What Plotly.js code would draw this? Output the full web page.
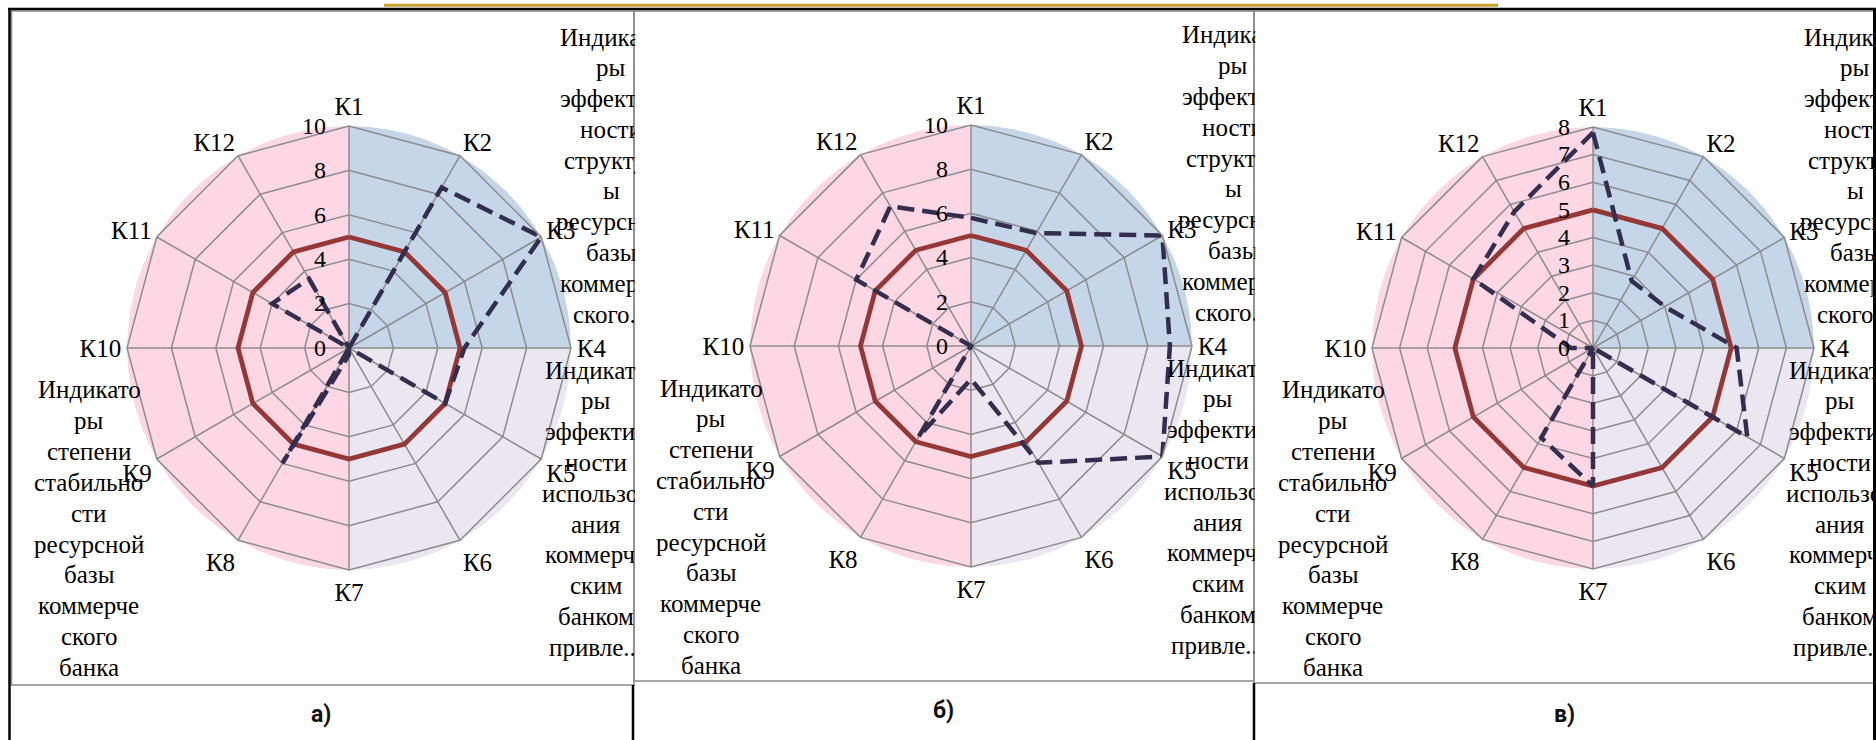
<!DOCTYPE html>
<html><head><meta charset="utf-8">
<script src="https://cdn.plot.ly/plotly-3.0.1.min.js"></script>
<style>html,body{margin:0;padding:0;background:#fff;}#chart{width:1876px;height:740px;}</style>
</head><body><div id="chart"></div>
<script>
// ---------- DATA ----------
const categories = ['К1','К2','К3','К4','К5','К6','К7','К8','К9','К10','К11','К12'];
// solid (threshold) series for each panel
const thresholdA = [5,5,5,5,5,5,5,5,5,5,5,5];
const thresholdB = [5,5,5,5,5,5,5,5,5,5,5,5];
const thresholdC = [5,5,5,5,5,5,5,5,5,5,5,5];
// dashed (actual) series for each panel
const valuesA = [0, 8.35, 10, 5.2, 5.0, 0, 0.3, 6.0, 0, 0, 4.0, 3.6];
const valuesB = [5.8, 5.9, 10, 9.0, 10, 6.1, 1.5, 4.75, 0, 0, 6.0, 7.3];
const valuesC = [7.8, 2.8, 3.0, 5.2, 6.45, 0, 5.0, 3.75, 0, 0.8, 5.0, 5.7];
// radial tick labels
const radialTicksAB = [0, 2, 4, 6, 8, 10];
const radialTicksC = [0, 1, 2, 3, 4, 5, 6, 7, 8];
// indicator groups (background sectors): number of indicator steps per group
const groupSteps = [3, 3, 6];
const groupColors = ['#c5d6e8', '#ebe7f0', '#fdd8e4'];
// group labels (as wrapped in the chart)
const groupStructureLines = ['Индикато','ры','эффектив','ности','структур','ы','ресурсной','базы','коммерче','ского...'];
const groupUsageLines = ['Индикато','ры','эффектив','ности','использов','ания','коммерче','ским','банком','привле...'];
const groupStabilityLines = ['Индикато','ры','степени','стабильно','сти','ресурсной','базы','коммерче','ского','банка'];
const panelCaptions = ['а)', 'б)', 'в)'];

// ---------- LAYOUT GEOMETRY ----------
const W = 1876, H = 740;
const panels = [
  {cx: 349, cy: 348, R: 222, clipRight: 634, max: 10, ticks: radialTicksAB, thr: thresholdA, val: valuesA, capX: 321, capY: 714},
  {cx: 971, cy: 346, R: 221, clipRight: 1254, max: 10, ticks: radialTicksAB, thr: thresholdB, val: valuesB, capX: 943, capY: 710},
  {cx: 1593, cy: 348, R: 221, clipRight: 1872, max: 8, ticks: radialTicksC, thr: thresholdC, val: valuesC, capX: 1564, capY: 714}
];
const gridCol = '#8c8c8c';
const serif = 'Liberation Serif';

const traces = [];
const layout = {
  width: W, height: H, margin: {l: 0, r: 0, t: 0, b: 0},
  paper_bgcolor: '#fff', showlegend: false,
  font: {family: serif, size: 25, color: '#000'},
  annotations: [], shapes: []
};

const totalSteps = groupSteps.reduce((a, b) => a + b, 0);
const close = arr => arr.concat([arr[0]]);

panels.forEach((p, i) => {
  const dom = {x: [(p.cx - p.R) / W, (p.cx + p.R) / W], y: [1 - (p.cy + p.R) / H, 1 - (p.cy - p.R) / H]};
  const bgId = 'polar' + (i === 0 ? '' : (i + 1));
  const rdId = 'polar' + (i + 4);
  // background sectors (one per indicator group)
  let start = 0;
  const th = [], wd = [];
  groupSteps.forEach(s => { const w = 360 * s / totalSteps; th.push(start + w / 2); wd.push(w); start += w; });
  traces.push({type: 'barpolar', subplot: bgId, r: groupSteps.map(() => 1), theta: th, width: wd,
    marker: {color: groupColors, line: {width: 0}}, hoverinfo: 'skip'});
  layout[bgId] = {domain: dom, bgcolor: 'rgba(0,0,0,0)', bargap: 0,
    angularaxis: {type: 'linear', direction: 'clockwise', rotation: 90, visible: false},
    radialaxis: {range: [0, 1], visible: false}};
  // radar series
  traces.push({type: 'scatterpolar', subplot: rdId, mode: 'lines', theta: close(categories), r: close(p.thr),
    line: {color: '#953735', width: 4.8}, hoverinfo: 'skip'});
  traces.push({type: 'scatterpolar', subplot: rdId, mode: 'lines', theta: close(categories), r: close(p.val),
    line: {color: '#332d4f', width: 4.5, dash: '17px,8px'}, hoverinfo: 'skip'});
  layout[rdId] = {domain: dom, bgcolor: 'rgba(0,0,0,0)', gridshape: 'linear',
    angularaxis: {type: 'category', categoryorder: 'array', categoryarray: categories,
      direction: 'clockwise', rotation: 90, showline: true, linecolor: gridCol, linewidth: 1.5,
      showgrid: true, gridcolor: gridCol, gridwidth: 1.5, ticks: '',
      tickfont: {family: serif, size: 25, color: '#000'}},
    radialaxis: {range: [0, p.max], autorange: false, tickvals: p.ticks, angle: 90, side: 'counterclockwise',
      showline: false, showgrid: true, gridcolor: gridCol, gridwidth: 1.5,
      ticks: 'outside', ticklen: 14, tickcolor: 'rgba(0,0,0,0)', tickangle: 90,
      tickfont: {family: serif, size: 24, color: '#000'}}};
});

// ---------- TEXT (group labels), clipped at the chart-area edge ----------
const ctx = document.createElement('canvas').getContext('2d');
ctx.font = "25px 'Liberation Serif'";
function lineAnn(text, cxLine, cyLine, clipRight) {
  const w = ctx.measureText(text).width;
  const left = cxLine - w / 2;
  const a = {text: text, xref: 'paper', yref: 'paper', x: left / W, y: 1 - cyLine / H,
    xanchor: 'left', yanchor: 'middle', align: 'left', showarrow: false, borderpad: 0,
    font: {family: serif, size: 25, color: '#000'}};
  if (left + w > clipRight) a.width = Math.max(1, clipRight - left);
  return a;
}
const lineStep = 30.8;
panels.forEach(p => {
  groupStructureLines.forEach((t, k) => layout.annotations.push(lineAnn(t, p.cx + 261, p.cy - 311 + k * lineStep, p.clipRight)));
  groupUsageLines.forEach((t, k) => layout.annotations.push(lineAnn(t, p.cx + 246, p.cy + 22 + k * lineStep, p.clipRight)));
  groupStabilityLines.forEach((t, k) => layout.annotations.push(lineAnn(t, p.cx - 261, p.cy + 42 + k * lineStep, p.clipRight)));
});
panels.forEach((p, i) => {
  layout.annotations.push({text: panelCaptions[i], xref: 'paper', yref: 'paper', x: p.capX / W, y: 1 - p.capY / H,
    xanchor: 'center', yanchor: 'middle', showarrow: false,
    font: {family: 'Roboto', size: 23, color: '#111', weight: 'bold'}});
});

// ---------- FRAMES ----------
function px(x) { return x / W; }
function py(y) { return 1 - y / H; }
function line(x0, y0, x1, y1, color, width) {
  return {type: 'line', xref: 'paper', yref: 'paper', x0: px(x0), y0: py(y0), x1: px(x1), y1: py(y1), line: {color: color, width: width}};
}
function rect(x0, y0, x1, y1, color, width) {
  return {type: 'rect', xref: 'paper', yref: 'paper', x0: px(x0), y0: py(y0), x1: px(x1), y1: py(y1), line: {color: color, width: width}, fillcolor: 'rgba(0,0,0,0)'};
}
layout.shapes.push(
  rect(11.5, 11, 634, 685, '#8a8a8a', 1.5),
  rect(634, 11, 1254, 681, '#8a8a8a', 1.5),
  rect(1254, 11, 1880, 683, '#8a8a8a', 1.5),
  line(8, 9, 1876, 9, '#000', 2.5),
  line(9.5, 8, 9.5, 740, '#000', 2.5),
  line(1874.5, 8, 1874.5, 740, '#000', 3),
  line(633, 685, 633, 740, '#000', 2.5),
  line(1254, 683, 1254, 740, '#000', 2.5),
  line(384, 5.3, 1498, 5.3, '#c9a02b', 3)
);

Plotly.newPlot('chart', traces, layout, {staticPlot: true, displayModeBar: false});
</script></body></html>
